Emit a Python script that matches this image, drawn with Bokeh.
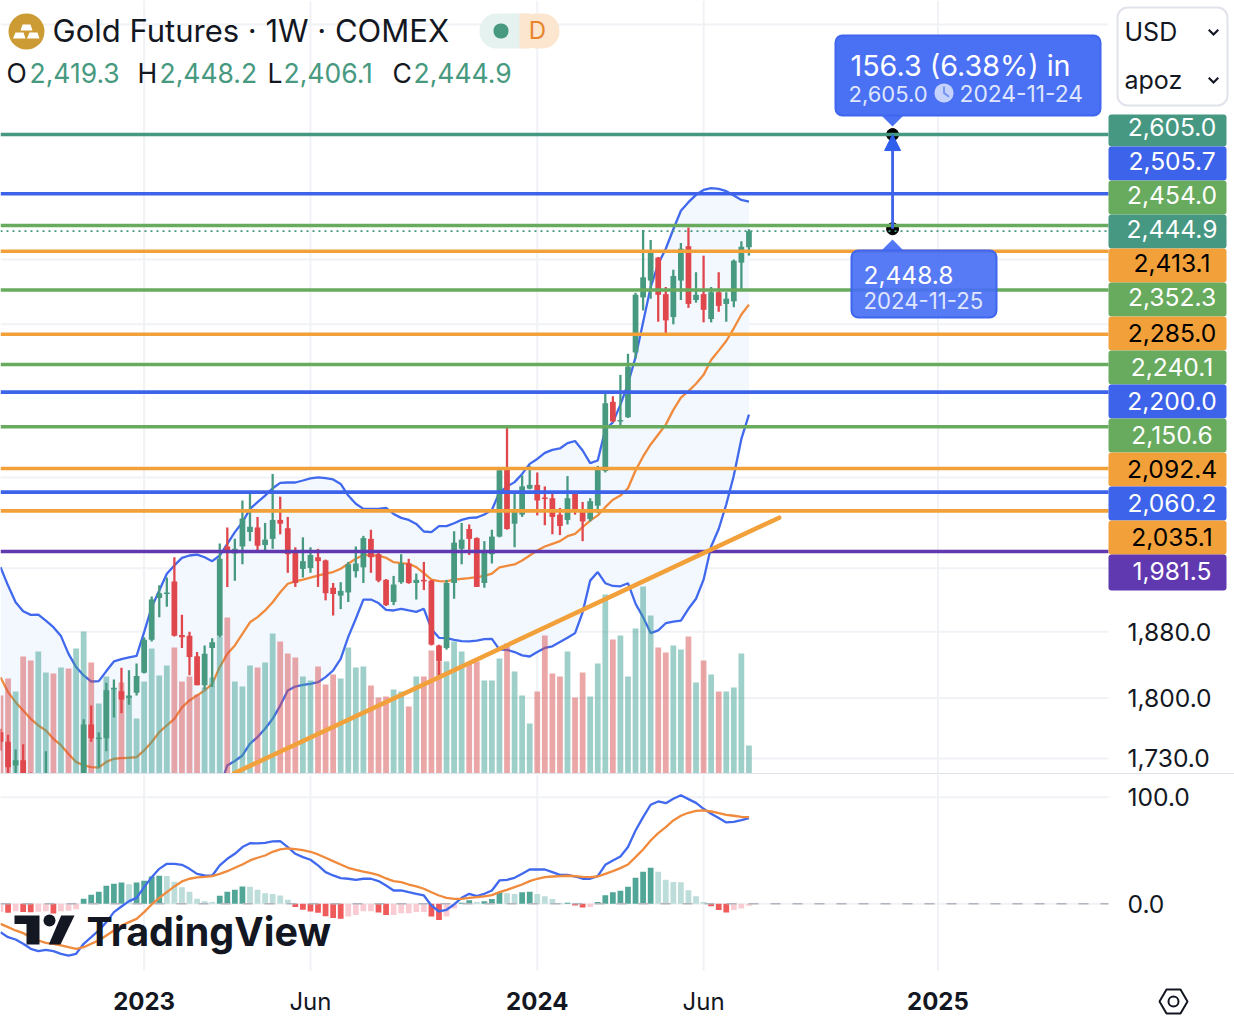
import pandas as pd
from bokeh.embed import file_html
from bokeh.layouts import column
from bokeh.models import (Arrow, BoxAnnotation, ColumnDataSource, FixedTicker, Label,
                          LinearScale, NormalHead, NumeralTickFormatter, PolyAnnotation, Range1d)
from bokeh.plotting import figure
from bokeh.resources import INLINE

FIRST_WEEK = "2022-08-22"
opens = [1760,1749,1722,1728,1712,1697,1690,1705,1695,1702,1680,1700,1769,1752,1753,1810,1808,1800,1806,1830,
         1870,1922,1927,1943,1876,1875,1850,1815,1860,1875,1988,1979,1988,2007,2013,1990,1998,2023,2012,1982,
         1959,1960,1974,1970,1935,1925,1929,1956,1961,1998,1978,1945,1917,1942,1966,1941,1945,1944,1863,1860,
         1941,1985,2011,1999,1941,1978,2001,2093,2018,2030,2065,2070,2053,2052,2030,2023,2058,2037,2024,2042,
         2089,2186,2158,2164,2258,2341,2367,2403,2346,2311,2367,2421,2337,2346,2308,2349,2331,2335,2395,2419.3]
highs = [1764,1757,1740,1746,1714,1710,1738,1711,1710,1706,1702,1775,1791,1760,1818,1822,1836,1833,1841,1873,
         1924,1938,1948,1974,1901,1880,1855,1863,1872,1992,2013,1998,2049,2062,2027,2019,2085,2054,2027,1987,
         2000,1987,1985,1971,1941,1942,1968,1988,2002,2010,1981,1946,1950,1978,1972,1953,1968,1945,1864,1945,
         2008,2019,2017,2000,1995,2010,2094,2152,2061,2083,2096,2087,2068,2061,2039,2082,2061,2047,2052,2096,
         2201,2194,2225,2256,2348,2447,2431,2404,2357,2384,2426,2451,2380,2406,2357,2380,2349,2400,2429,2448.2]
lows = [1739,1713,1712,1700,1690,1690,1685,1685,1688,1675,1672,1695,1749,1720,1738,1777,1782,1792,1803,1829,
        1868,1898,1911,1874,1860,1827,1815,1810,1813,1873,1936,1944,1965,1995,1981,1981,1985,2004,1954,1936,
        1948,1954,1936,1919,1900,1908,1917,1948,1941,1954,1942,1912,1913,1940,1940,1920,1932,1863,1824,1858,
        1921,1965,1977,1936,1935,1966,2000,2010,1987,2027,2064,2029,2016,2004,2003,2017,2030,1995,2021,2032,
        2087,2157,2149,2163,2249,2321,2339,2304,2284,2300,2337,2325,2333,2303,2303,2319,2304,2326,2352,2406.1]
closes = [1749,1720,1728,1712,1697,1705,1705,1695,1702,1680,1695,1769,1753,1754,1809,1812,1798,1803,1826,1870,
          1920,1928,1929,1875,1873,1849,1815,1853,1867,1972,1982,1985,2025,2014,1989,1997,2023,2018,1978,1941,
          1969,1977,1969,1928,1927,1931,1965,1966,1999,1974,1944,1913,1939,1966,1941,1945,1943,1864,1844,1941,
          1993,1997,1998,1936,1983,2001,2090,2011,2035,2068,2070,2049,2051,2027,2015,2052,2037,2021,2048,2094,
          2184,2158,2160,2237,2345,2372,2412,2345,2306,2374,2417,2331,2345,2322,2349,2328,2339,2398,2420,2444.9]
volumes = [79,96,83,118,114,123,102,101,107,106,126,143,112,71,98,85,92,77,56,93,
           126,99,109,127,93,98,80,87,97,138,157,93,88,109,107,112,141,133,121,117,
           98,94,108,90,100,96,127,107,108,89,77,78,85,83,68,98,98,124,113,113,
           133,123,112,113,94,94,116,131,103,79,51,83,139,101,98,123,77,102,78,111,
           180,135,139,98,146,188,159,127,122,129,125,138,92,114,100,83,83,87,121,29]
bb_upper = [1961.3,1937.7,1916.7,1905.4,1900.8,1901.2,1893.7,1885.5,1874.5,1852.8,1836.8,1826.8,1819.5,1820,1832,1843.6,1846.4,1848.4,1850.4,1879.4,
            1910.5,1931.4,1952.7,1963.5,1973.3,1976.3,1977.5,1974,1969,1976.3,1991.5,2006.8,2019.9,2037.7,2046.7,2055.6,2065.5,2072.8,2073.3,2073.3,
            2076,2078.8,2080.2,2079.3,2077.4,2071.4,2055.6,2044.5,2037.7,2037.7,2037.7,2039,2031,2025.7,2023,2017.7,2007.7,2006.8,2014.7,2014.7,
            2018.6,2023,2025.7,2026.2,2030.2,2036.4,2060,2067.7,2073.8,2085,2098.8,2105.6,2114,2118.2,2120.1,2127.6,2130.5,2117.3,2099.7,2103.4,
            2147,2156.7,2182,2212,2251,2303,2357,2393,2417,2448,2478,2492,2504,2512,2515,2513.7,2510,2502.8,2495.6,2493]
bb_mid = [1824.7,1806.8,1795,1785.3,1775.5,1767.8,1762,1752.4,1745,1735,1726,1722,1720,1719.5,1726,1729.6,1730.3,1730.7,1731.4,1739,
          1748.7,1760,1767.8,1775.5,1789,1797,1803,1808.8,1816.7,1836.8,1852.8,1863,1877.3,1891.6,1898,1906.3,1916.7,1929.3,1940,1943,
          1945.2,1947.8,1950.4,1952.9,1955,1959.3,1965.6,1972,1977,1976.3,1976.3,1973.3,1967.7,1966.4,1965.6,1961.3,1953.6,1945.4,1943.3,1943,
          1945.2,1946.3,1947.3,1948.6,1950,1952.9,1961,1963,1964.7,1969.8,1976.3,1982.7,1988,1991.5,1995,2001.5,2004.6,2013.4,2022,2029,
          2040,2050,2055.6,2065.5,2089.7,2109,2125.7,2139.6,2153.5,2174.5,2192,2201.4,2212,2225,2246.8,2260.7,2275,2294,2314.8,2330]
bb_lower = [1688,1676,1673,1665,1650,1634,1630,1619,1615,1617,1615,1617,1620,1619,1620,1615,1614,1613,1612,1598,
            1587,1589,1583,1588,1605,1618,1628,1644,1664,1697,1722,1727,1733.3,1746.7,1754.4,1764,1775.5,1791,1808.8,1813.5,
            1815.4,1816.7,1818.7,1824.7,1832.7,1846.8,1873.5,1896,1920,1920,1915.6,1907,1906.3,1908.4,1906.3,1904.6,1908.4,1883.4,1872.4,1872,
            1870,1868.4,1868,1869,1870.8,1871.2,1858,1857.7,1855,1851,1849.6,1855,1860,1862,1867.2,1872.4,1878.2,1904,1944,1955,
            1940.7,1937.2,1936.8,1940.7,1914.8,1898,1878.2,1881.5,1890.4,1892.5,1893.7,1908.4,1921,1945.2,1988,2011,2043.6,2082.8,2133.4,2167.7]
macd_line = [-26.6,-31.3,-33.5,-37.5,-42.2,-44.4,-43.2,-44.4,-46.9,-48.5,-46.9,-37.5,-31.3,-25,-17.2,-7.8,-2.5,2.5,5.6,15.6,
             25,32.8,37.5,37.5,36.6,32.8,28.1,26.6,26.3,36,42.2,46.9,53.2,56.9,56.6,57.2,58.5,58.8,53.2,46.9,
             43.8,41.3,36,29.7,26.6,24.1,23.5,22.5,23.5,23.5,21.3,17.2,12.5,12.5,10.9,9.4,7.8,-1.6,-7.2,-5.6,
             -0.6,5.6,9.4,7.2,9.4,12.5,21.9,22.5,24.4,28.1,32.2,32.2,32.2,29.7,27.2,27.2,25.6,23.5,23.5,26,
             36.6,40.7,44.4,53.2,68.8,81.3,92.9,96,94.4,98.5,101.9,98.2,94.7,89.1,84.4,80.4,76.3,76.9,78.5,80.4]
macd_signal = [-18.8,-21.9,-25,-27.5,-31.3,-34.4,-36.6,-37.5,-39.1,-40.7,-42.2,-40.7,-37.5,-34.4,-29.7,-25,-20.3,-17.2,-14.1,-7.8,
               -0.6,5.6,10.9,16.3,21,23.5,24.7,25.3,26,28.1,30.6,33.8,36.9,40.7,43.2,45.3,48.8,51,51.9,51.3,
               50.3,48.8,46.3,43.2,40,36.9,33.8,31.9,30.3,28.8,26.9,23.8,21.3,20.3,18.1,16.3,14.1,10.9,7.8,5.6,
               4.7,4.7,5.6,6.3,6.9,8.1,10.9,13.1,15.6,18.1,21.3,23.5,25,25.6,26,26.3,26,25.3,25,25.6,
               28.1,30.6,33.5,36.9,43.8,51,59.4,66.3,71.9,78.2,82.6,85.4,87.2,87.6,86.6,85,83.5,82.6,81.6,81.3]
macd_hist = [-7.8,-8.4,-6.9,-7.8,-8,-7.5,-7,-9,-6.9,-6.5,-5,4.7,8.4,11.3,16.9,18.8,20,18.4,20,21.6,
             25.6,26.3,26.2,20.6,15.6,11.3,4.7,2.5,1.6,7.5,11.3,13.1,16.2,15.9,13.1,10,9.1,7.8,3.8,-3.1,
             -5.6,-7.2,-8.4,-11.6,-13.4,-14.1,-11.9,-10.6,-6.9,-6.9,-8.1,-10.6,-10.4,-8.8,-8.8,-7.8,-7.8,-11.9,-15.3,-11.9,
             -4.4,0.9,3.4,1.6,2.5,4.4,10.9,10,9.1,10.9,11.2,9.1,7.2,4.4,0.8,1,-1.6,-3.4,-3.1,1.6,
             8.1,10.9,12.2,15.9,24.4,30,33.8,30,22.5,20.5,20.2,12.8,7.2,1.6,-2.2,-5.9,-8.1,-5.9,-4.4,-1.9]
level_values = [2605.0,2505.7,2454.0,2413.1,2352.3,2285.0,2240.1,2200.0,2150.6,2092.4,2060.2,2035.1,1981.5]
level_colors = ["#469882","#3d63ea","#68aa5e","#f2a03a","#68aa5e","#f2a03a","#68aa5e","#3d63ea","#68aa5e","#f2a03a","#3d63ea","#f2a03a","#6038b0"]
last_price = 2444.9
tag_values = [2605.0,2505.7,2454.0,2444.9,2413.1,2352.3,2285.0,2240.1,2200.0,2150.6,2092.4,2060.2,2035.1,1981.5]
tag_colors = ["#469882","#3d63ea","#68aa5e","#469882","#f2a03a","#68aa5e","#f2a03a","#68aa5e","#3d63ea","#68aa5e","#f2a03a","#3d63ea","#f2a03a","#6038b0"]
trend_dates = ["2023-03-26", "2024-08-12"]
trend_prices = [1713, 2026]
measure_date = "2024-11-25"
measure_from, measure_to = 2448.8, 2605.0
price_ticks = [1730, 1800, 1880]
price_grid = [1730, 1800, 1880, 1960, 2080, 2300, 2400, 2800]
year_ticks = {"2023-01-02": "2023", "2024-01-01": "2024", "2025-01-06": "2025"}
month_ticks = {"2023-06-05": "Jun", "2024-06-03": "Jun"}
macd_ticks = [0, 100]

FONT = "Inter"
INK = "#131722"
GREEN = "#47997f"
RED = "#e0474c"
GRID = "#f0f2f5"
BLUE = "#4069ee"
ORANGE = "#f08a3c"
W, MAIN_H, PANE_H, PANE_FRAME_H, PLOT_W = 1234, 774, 252, 196, 1108
PX_PER_WEEK = 7.56
PX_PER_MACD = 1.066


def ms(day):
    return pd.Timestamp(day).timestamp() * 1000


weeks = pd.date_range(FIRST_WEEK, periods=len(closes), freq="7D")
x_start = weeks[0]
x_plot_end = x_start + pd.Timedelta(days=7 * PLOT_W / PX_PER_WEEK)
x_range = Range1d(x_start, x_start + pd.Timedelta(days=7 * W / PX_PER_WEEK))
body_w = 7 * 24 * 3600 * 1000 * 0.76
up = [c >= o for o, c in zip(opens, closes)]
src = ColumnDataSource(dict(
    d=weeks, v=volumes, l=lows, h=highs,
    top=[max(a, b) for a, b in zip(opens, closes)],
    bot=[min(a, b) for a, b in zip(opens, closes)],
    col=[GREEN if u else RED for u in up],
    vcol=["#3f9f94" if u else "#d85050" for u in up],
    upper=bb_upper, mid=bb_mid, lower=bb_lower,
    ml=macd_line, sig=macd_signal, hist=macd_hist,
))
hist_cols = []
for i, h in enumerate(macd_hist):
    prev = macd_hist[i - 1] if i else h
    if h >= 0:
        hist_cols.append("#52a698" if h > prev else "#bcddd9")
    else:
        hist_cols.append("#ef5a5a" if h < prev else "#f8ccd2")
src.data["hcol"] = hist_cols


def style_axis(a, standoff, size="24.6px"):
    a.axis_line_color = None
    a.major_tick_line_color = None
    a.minor_tick_line_color = None
    a.major_label_standoff = standoff
    a.major_label_text_font = FONT
    a.major_label_text_font_size = size
    a.major_label_text_color = INK


def hlines(fig, ys, **kw):
    n = len(ys)
    fig.segment(x0=[x_start] * n, x1=[x_plot_end] * n, y0=ys, y1=ys, **kw)


all_dates = pd.to_datetime(list(year_ticks) + list(month_ticks))
P_LOW, P_HIGH = 1711.8, 2844.5
p = figure(width=W, height=MAIN_H, x_axis_type="datetime", y_axis_type="log", x_range=x_range,
           y_range=Range1d(P_LOW, P_HIGH), x_axis_location=None, y_axis_location="right",
           min_border=0, toolbar_location=None, output_backend="svg",
           outline_line_color=None, background_fill_color="white")
p.grid.visible = False
p.extra_y_ranges = {"vol": Range1d(0, MAIN_H)}
p.extra_y_scales = {"vol": LinearScale()}
ax = p.yaxis[0]
ax.ticker = FixedTicker(ticks=price_ticks)
ax.formatter = NumeralTickFormatter(format="0,0.0")
style_axis(ax, -113)

p.segment(x0=all_dates, x1=all_dates, y0=[P_LOW] * 5, y1=[P_HIGH] * 5, line_color=GRID, line_width=2)
hlines(p, price_grid, line_color=GRID, line_width=2)
p.varea(x="d", y1="lower", y2="upper", source=src, fill_color="#f3f8fe")
p.line(x="d", y="upper", source=src, line_color=BLUE, line_width=2.3)
p.line(x="d", y="lower", source=src, line_color=BLUE, line_width=2.3)
p.line(x="d", y="mid", source=src, line_color=ORANGE, line_width=2.3)
p.vbar(x="d", top="v", bottom=0, width=body_w, source=src, fill_color="vcol", fill_alpha=0.5, line_color=None, y_range_name="vol")
p.segment(x0="d", x1="d", y0="l", y1="h", source=src, line_color="col", line_width=2.3)
p.vbar(x="d", top="top", bottom="bot", width=body_w, source=src, fill_color="col", line_color=None)
md = pd.Timestamp(measure_date)
p.scatter(x=[md, md], y=[measure_from, measure_to], size=12, color="black")
n_levels = len(level_values)
p.segment(x0=[x_start] * n_levels, x1=[x_plot_end] * n_levels, y0=level_values, y1=level_values,
          line_color=level_colors, line_width=3.6)
hlines(p, [last_price], line_color="#469882", line_width=1.8, line_dash="2 4")
p.line(x=pd.to_datetime(trend_dates), y=trend_prices, line_color="#f2a03a", line_width=4.5, line_cap="round")
p.add_layout(Arrow(end=NormalHead(size=16, fill_color="#2f5fee", line_color="#2f5fee"),
                   x_start=ms(md), y_start=measure_from, x_end=ms(md), y_end=measure_to,
                   line_color="#3d63ea", line_width=2.8))


def box(fig, base, l, r, t, b, color, alpha=1.0, radius=0, line=None, lw=0):
    fig.add_layout(BoxAnnotation(left=l, right=r, top=base - t, bottom=base - b,
                                 left_units="screen", right_units="screen", top_units="screen", bottom_units="screen",
                                 fill_color=color, fill_alpha=alpha, line_color=line, line_width=lw, line_alpha=1 if line else 0,
                                 border_radius=int(round(radius))))


def poly(fig, base, pts, color, alpha=1.0, line=None, lw=0):
    fig.add_layout(PolyAnnotation(xs=[q[0] for q in pts], ys=[base - q[1] for q in pts], xs_units="screen", ys_units="screen",
                                  fill_color=color, fill_alpha=alpha, line_color=line, line_width=lw, line_alpha=1 if line else 0))


def txt(fig, base, x, y, s, size, color=INK, style="normal", align="left"):
    fig.add_layout(Label(x=x, y=base - y + 1, x_units="screen", y_units="screen", text=s, text_font=FONT,
                         text_font_size=f"{size}px", text_color=color, text_font_style=style,
                         text_align=align, text_baseline="middle"))


# price tags on the right
tag_tops = [114, 146, 180, 214, 248, 282, 316, 350, 384, 418, 452, 486, 520, 554, 590]
tag_mids = [127, 161, 195, 229, 263, 297, 333, 367, 401, 435, 469, 503, 537, 571]
for i, (v, c) in enumerate(zip(tag_values, tag_colors)):
    box(p, MAIN_H, PLOT_W, 1226, tag_tops[i], tag_tops[i + 1], c, radius=3)
    ink = "#000000" if c == "#f2a03a" else "#ffffff"
    txt(p, MAIN_H, 1171.5, tag_mids[i], f"{v:,.1f}", 24.6, ink, align="center")

# header
box(p, MAIN_H, 8, 44, 13, 49, "#cc9b33", radius=18)
poly(p, MAIN_H, [(22, 24), (30, 24), (32, 30), (20, 30)], "white")
poly(p, MAIN_H, [(15, 32), (23, 32), (25, 38), (12.5, 38)], "white")
poly(p, MAIN_H, [(29, 32), (37, 32), (39, 38), (26.5, 38)], "white")
txt(p, MAIN_H, 52, 31, "Gold Futures · 1W · COMEX", 31)
box(p, MAIN_H, 479, 536, 13, 48, "#e6f2ef", radius=17)
box(p, MAIN_H, 519, 559, 13, 48, "#fce6cf", radius=17)
box(p, MAIN_H, 519, 530, 13, 48, "#fce6cf")
box(p, MAIN_H, 493, 508, 23, 38, GREEN, radius=7)
txt(p, MAIN_H, 537, 31, "D", 24, "#e8842c", align="center")
for x, s, col in [(6, "O", INK), (29, "2,419.3", GREEN), (137, "H", INK), (159, "2,448.2", GREEN),
                  (267, "L", INK), (283, "2,406.1", GREEN), (392, "C", INK), (413, "2,444.9", GREEN)]:
    txt(p, MAIN_H, x, 73, s, 26.5, col)

# selectors
box(p, MAIN_H, 1117, 1227, 7, 105, "white", radius=10, line="#e0e3eb", lw=2)
txt(p, MAIN_H, 1124, 32, "USD", 25)
txt(p, MAIN_H, 1124, 80, "apoz", 25)
for yc in (33, 81):
    poly(p, MAIN_H, [(1207.5, yc - 3), (1209, yc - 4.5), (1213, yc - .5), (1217, yc - 4.5), (1218.5, yc - 3), (1213, yc + 2.5)], INK)

# measure callouts
poly(p, MAIN_H, [(880, 114), (904, 114), (892, 126)], "#4a70f4")
box(p, MAIN_H, 835, 1100, 35, 115, "#4a70f4", radius=7, line="#3f66ee", lw=2)
txt(p, MAIN_H, 850, 66, "156.3 (6.38%) in", 28.7, "#ffffff")
txt(p, MAIN_H, 848, 94, "2,605.0", 22, "#dfe6fd")
box(p, MAIN_H, 934, 953, 83, 102, "#c5d2fb", radius=9)
poly(p, MAIN_H, [(942.6, 86), (944.4, 86), (944.4, 92), (949, 95.5), (948, 97), (942.6, 93)], "#6f8ff6")
txt(p, MAIN_H, 959, 94, "2024-11-24", 22.8, "#dfe6fd")
poly(p, MAIN_H, [(880, 251), (904, 251), (892, 239)], "#4a70f4", 0.95)
box(p, MAIN_H, 851, 996, 250, 317, "#4a70f4", 0.93, radius=7, line="#3f66ee", lw=2)
txt(p, MAIN_H, 863, 275, "2,448.8", 24.5, "#ffffff")
txt(p, MAIN_H, 863, 301, "2024-11-25", 22.2, "#dfe6fd")
# pane separator
box(p, MAIN_H, 0, W, 772.5, 774, "#e0e3eb")

# MACD pane: frame covers the time-axis strip as well
MACD_HIGH = 121.3
MACD_LOW = MACD_HIGH - PANE_H / PX_PER_MACD
MACD_BOTTOM = MACD_HIGH - PANE_FRAME_H / PX_PER_MACD
m = figure(width=W, height=PANE_H, x_axis_type="datetime", x_range=x_range, y_range=Range1d(MACD_LOW, MACD_HIGH),
           y_axis_location="right", min_border=0,
           toolbar_location=None, output_backend="svg", outline_line_color=None)
m.grid.visible = False
mx = m.xaxis[0]
mx.ticker = FixedTicker(ticks=[ms(k) for k in year_ticks])
mx.major_label_overrides = {ms(k): v for k, v in year_ticks.items()}
style_axis(mx, -41, "24px")
mx.major_label_text_font_style = "bold"
my = m.yaxis[0]
my.ticker = FixedTicker(ticks=macd_ticks)
my.formatter = NumeralTickFormatter(format="0.0")
style_axis(my, -113)

m.segment(x0=all_dates, x1=all_dates, y0=[MACD_BOTTOM] * 5, y1=[MACD_HIGH] * 5, line_color=GRID, line_width=2)
hlines(m, macd_ticks, line_color=GRID, line_width=2)
m.vbar(x="d", top="hist", bottom=0, width=body_w, source=src, fill_color="hcol", line_color=None)
hlines(m, [0], line_color="#b2b5be", line_width=1.5, line_dash="10 12")
m.line(x="d", y="ml", source=src, line_color=BLUE, line_width=2.3)
m.line(x="d", y="sig", source=src, line_color=ORANGE, line_width=2.3)


def py(y):
    return y - MAIN_H


for k, v in month_ticks.items():
    m.add_layout(Label(x=ms(k), y=PANE_H - py(1001), x_units="data", y_units="screen", text=v, text_font=FONT,
                       text_font_size="24px", text_color=INK, text_align="center", text_baseline="middle"))

# TradingView mark
poly(m, PANE_H, [(14, py(915)), (39, py(915)), (39, py(944)), (26, py(944)), (26, py(923.5)), (14, py(923.5))], INK)
box(m, PANE_H, 43, 55, py(914), py(926), INK, radius=6)
poly(m, PANE_H, [(60.7, py(915)), (74, py(915)), (60, py(944)), (48.3, py(944))], INK)
txt(m, PANE_H, 86, py(932), "TradingView", 39.5, INK, style="bold")

# settings hexagon
poly(m, PANE_H, [(1159, py(1001)), (1166, py(989)), (1180, py(989)), (1187, py(1001)), (1180, py(1013)), (1166, py(1013))],
     "white", line=INK, lw=2)
box(m, PANE_H, 1168, 1178, py(996), py(1006), "white", radius=5, line=INK, lw=2)

layout = column(p, m, spacing=0, styles={"position": "absolute", "left": "0px", "top": "0px"})
open("out.html", "w").write(file_html(layout, INLINE))
